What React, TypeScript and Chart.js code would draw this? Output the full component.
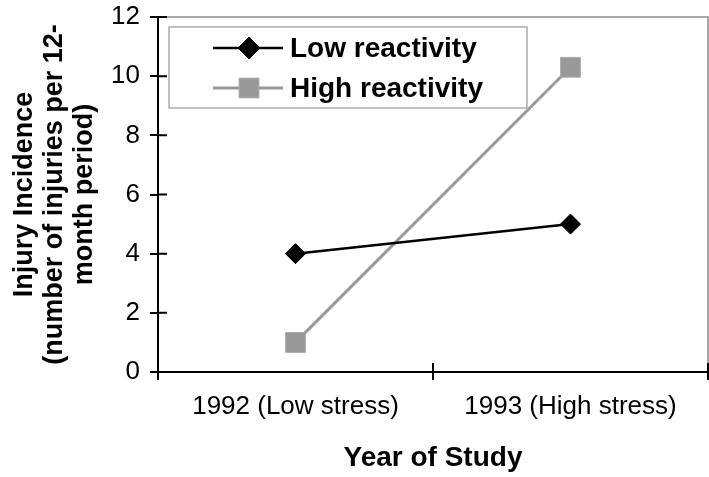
import React, { useEffect, useRef } from "react";
import { Chart, registerables } from "chart.js";

Chart.register(...registerables);

const categories = ["1992 (Low stress)", "1993 (High stress)"];
const seriesNames = ["Low reactivity", "High reactivity"];
const lowReactivity = [4, 5];
const highReactivity = [1, 10.3];
const yMin = 0;
const yMax = 12;
const yStep = 2;
const yTitle = ["Injury Incidence", "(number of injuries per 12-", "month period)"];
const xTitle = "Year of Study";

const FONT = "'Liberation Sans', Arial, Helvetica, sans-serif";

function drawMarker(ctx: CanvasRenderingContext2D, style: string, x: number, y: number, r: number, fill: string, stroke: string) {
  ctx.beginPath();
  if (style === "rectRot") {
    ctx.moveTo(x - r, y);
    ctx.lineTo(x, y - r);
    ctx.lineTo(x + r, y);
    ctx.lineTo(x, y + r);
    ctx.closePath();
  } else {
    const s = r * Math.SQRT1_2;
    ctx.rect(x - s, y - s, 2 * s, 2 * s);
  }
  ctx.fillStyle = fill;
  ctx.fill();
  ctx.strokeStyle = stroke;
  ctx.lineWidth = 1;
  ctx.stroke();
}

const framePlugin = {
  id: "frame",
  beforeDatasetsDraw(chart: any) {
    const { ctx, chartArea } = chart;
    const { left, top, right, bottom } = chartArea;
    ctx.save();
    ctx.strokeStyle = "#8c8c8c";
    ctx.lineWidth = 1.5;
    ctx.beginPath();
    ctx.moveTo(left, top);
    ctx.lineTo(right, top);
    ctx.lineTo(right, bottom);
    ctx.stroke();
    // inward tick stubs
    ctx.strokeStyle = "#000";
    ctx.lineWidth = 2;
    ctx.beginPath();
    const ys = chart.scales.y;
    ys.ticks.forEach((t: any) => {
      const py = ys.getPixelForValue(t.value);
      ctx.moveTo(left, py);
      ctx.lineTo(left + 9, py);
    });
    const xs = chart.scales.x;
    for (let i = 0; i <= categories.length; i++) {
      const px = xs.getPixelForValue(i - 0.5);
      ctx.moveTo(px, bottom);
      ctx.lineTo(px, bottom - 9);
    }
    ctx.stroke();
    ctx.restore();
  },
  afterDatasetsDraw(chart: any) {
    const { ctx, chartArea } = chart;
    const bx = chartArea.left + 11;
    const by = chartArea.top + 10;
    const bw = 358;
    const bh = 81;
    ctx.save();
    ctx.fillStyle = "#fff";
    ctx.fillRect(bx, by, bw, bh);
    ctx.strokeStyle = "#999";
    ctx.lineWidth = 1.2;
    ctx.strokeRect(bx, by, bw, bh);
    chart.data.datasets.forEach((ds: any, i: number) => {
      const cy = by + 21 + i * 40;
      ctx.strokeStyle = ds.borderColor;
      ctx.lineWidth = ds.borderWidth;
      ctx.beginPath();
      ctx.moveTo(bx + 44, cy);
      ctx.lineTo(bx + 114, cy);
      ctx.stroke();
      const r = ds.pointStyle === "rectRot" ? 11 : 14;
      drawMarker(ctx, ds.pointStyle, bx + 80, cy, r, ds.pointBackgroundColor, ds.pointBorderColor);
      ctx.fillStyle = "#000";
      ctx.font = `bold 28px ${FONT}`;
      ctx.textAlign = "left";
      ctx.textBaseline = "middle";
      ctx.fillText(ds.label, bx + 121, cy + 1);
    });
    ctx.restore();
  },
};

function zeroPadding(scale: any) {
  scale.paddingTop = 0;
  scale.paddingBottom = 0;
  scale.paddingLeft = 0;
  scale.paddingRight = 0;
}

export default function App() {
  const ref = useRef<HTMLCanvasElement | null>(null);
  useEffect(() => {
    document.body.style.margin = "0";
    const canvas = ref.current;
    if (!canvas) return;
    const chart = new Chart(canvas, {
      type: "line",
      data: {
        labels: categories,
        datasets: [
          {
            label: seriesNames[0],
            data: lowReactivity,
            borderColor: "#000",
            borderWidth: 2.5,
            pointStyle: "rectRot",
            pointRadius: 10,
            pointHoverRadius: 10,
            pointBackgroundColor: "#000",
            pointBorderColor: "#000",
            pointBorderWidth: 1,
          },
          {
            label: seriesNames[1],
            data: highReactivity,
            borderColor: "#9a9a9a",
            borderWidth: 3,
            pointStyle: "rect",
            pointRadius: 14,
            pointHoverRadius: 14,
            pointBackgroundColor: "#999",
            pointBorderColor: "#aaa",
            pointBorderWidth: 1,
          },
        ] as any,
      },
      options: {
        responsive: false,
        animation: false,
        devicePixelRatio: 1,
        layout: { autoPadding: false, padding: { top: 17, right: 1, left: 0, bottom: 0 } },
        plugins: {
          legend: { display: false },
          tooltip: { enabled: false },
        },
        scales: {
          x: {
            type: "category",
            offset: true,
            grid: {
              offset: true,
              drawOnChartArea: false,
              drawTicks: true,
              tickLength: 8,
              color: "#000",
              lineWidth: 2,
            },
            border: { display: true, color: "#000", width: 2 },
            ticks: {
              color: "#000",
              font: { family: FONT, size: 26 },
              padding: 11,
              maxRotation: 0,
            },
            title: {
              display: true,
              text: xTitle,
              color: "#000",
              font: { family: FONT, size: 28, weight: "bold", lineHeight: 1.2 },
              padding: { top: 0, bottom: 2 },
            },
            afterFit(scale: any) {
              scale.height = 105;
              zeroPadding(scale);
            },
          },
          y: {
            min: yMin,
            max: yMax,
            grid: {
              drawOnChartArea: false,
              drawTicks: true,
              tickLength: 8,
              color: "#000",
              lineWidth: 2,
            },
            border: { display: true, color: "#000", width: 2 },
            ticks: {
              stepSize: yStep,
              color: "#000",
              font: { family: FONT, size: 26 },
              padding: 10,
            },
            title: {
              display: true,
              text: yTitle,
              color: "#000",
              font: { family: FONT, size: 27, weight: "bold", lineHeight: 1.1 },
              padding: { top: 10, bottom: 0 },
            },
            afterFit(scale: any) {
              scale.width = 158;
              zeroPadding(scale);
            },
          },
        },
      } as any,
      plugins: [framePlugin],
    });
    return () => chart.destroy();
  }, []);
  return (
    <div style={{ width: 709, height: 477, background: "#fff" }}>
      <canvas ref={ref} width={709} height={477} style={{ display: "block" }} />
    </div>
  );
}
